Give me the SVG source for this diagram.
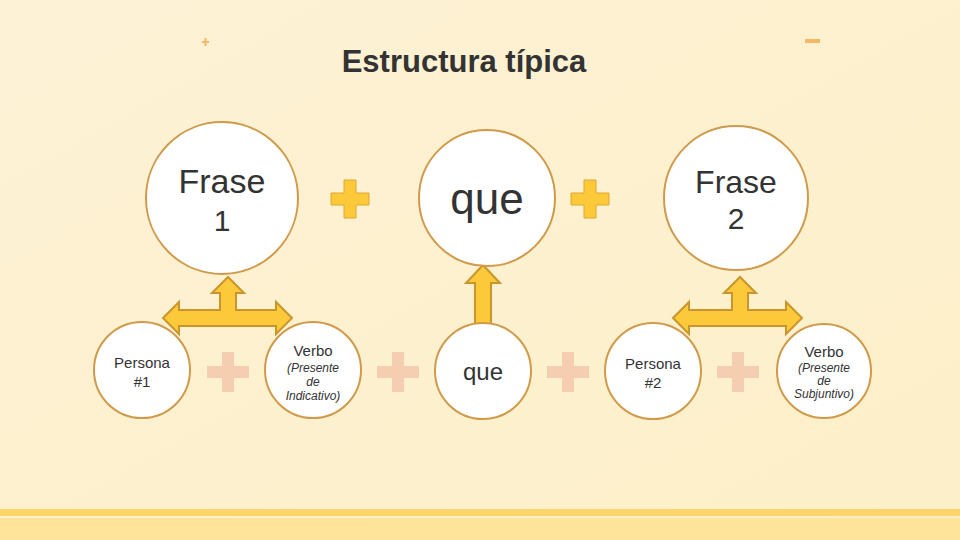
<svg xmlns="http://www.w3.org/2000/svg" width="960" height="540" viewBox="0 0 960 540">
<style>
.c{fill:#fff;stroke:#d19a4a;stroke-width:2}
.t{font-family:"Liberation Sans",Arial,sans-serif;fill:#333;text-anchor:middle}
.ar{fill:#fcc93a;stroke:#c9962d;stroke-width:2;stroke-linejoin:miter}
.pb{fill:#fcc93a;stroke:#e0a82b;stroke-width:1}
.ps{fill:#f5cdb0}
</style>
<defs>
<linearGradient id="bg" x1="0" y1="0" x2="1" y2="1"><stop offset="0" stop-color="#fdf2d6"/><stop offset="1" stop-color="#fdefc8"/></linearGradient>
</defs>
<rect width="960" height="540" fill="url(#bg)"/>
<rect y="509" width="960" height="7" fill="#fdd568"/>
<rect y="518" width="960" height="22" fill="#fee49a"/>
<rect x="202" y="41" width="7" height="2" fill="#f2b866"/><rect x="204.5" y="38" width="2" height="8" fill="#f2b866"/>
<rect x="805" y="39" width="15" height="4" fill="#f2b866"/>
<text class="t" x="464" y="72" font-size="31" font-weight="bold">Estructura típica</text>
<g id="conn">
<path class="ar" d="M163,318 L179,302 L179,310 L220,310 L220,293 L212,293 L228,277 L244,293 L236,293 L236,310 L276,310 L276,302 L292,318 L276,334 L276,326 L179,326 L179,334 Z"/>
<path class="ar" d="M673,318 L689,302 L689,310 L732,310 L732,293 L724,293 L740,277 L756,293 L748,293 L748,310 L786,310 L786,302 L802,318 L786,334 L786,326 L689,326 L689,334 Z"/>
<path class="ar" d="M475,325 L475,283 L466,283 L483,265 L500,283 L491,283 L491,325 Z"/>
</g>
<g id="plus-big1"><path class="pb" d="M344,180h12v13h13v12h-13v13h-12v-13h-13v-12h13z"/></g>
<g id="plus-big2"><path class="pb" d="M584,180h12v13h13v12h-13v13h-12v-13h-13v-12h13z"/></g>
<g id="plus-s1"><path class="ps" d="M222,352h12v14h15v12h-15v14h-12v-14h-15v-12h15z"/></g>
<g id="plus-s2"><path class="ps" d="M392,352h12v14h15v12h-15v14h-12v-14h-15v-12h15z"/></g>
<g id="plus-s3"><path class="ps" d="M562,352h12v14h15v12h-15v14h-12v-14h-15v-12h15z"/></g>
<g id="plus-s4"><path class="ps" d="M732,352h12v14h15v12h-15v14h-12v-14h-15v-12h15z"/></g>
<g id="frase1"><circle class="c" cx="222" cy="198" r="76"/><text class="t" x="222" y="193" font-size="34">Frase</text><text class="t" x="222" y="231" font-size="30">1</text></g>
<g id="que1"><circle class="c" cx="487" cy="198" r="68"/><text class="t" x="487" y="214" font-size="44">que</text></g>
<g id="frase2"><circle class="c" cx="736" cy="198" r="72"/><text class="t" x="736" y="193" font-size="32">Frase</text><text class="t" x="736" y="229" font-size="30">2</text></g>
<g id="persona1"><circle class="c" cx="142" cy="370" r="48"/><text class="t" x="142" y="368" font-size="15">Persona</text><text class="t" x="142" y="387" font-size="15">#1</text></g>
<g id="verbo1"><circle class="c" cx="313" cy="370" r="48"/><text class="t" x="313" y="356" font-size="15">Verbo</text><text class="t" x="313" y="372" font-size="12" font-style="italic">(Presente</text><text class="t" x="313" y="386" font-size="12" font-style="italic">de</text><text class="t" x="313" y="400" font-size="12" font-style="italic">Indicativo)</text></g>
<g id="que2"><circle class="c" cx="483" cy="371" r="48"/><text class="t" x="483" y="380" font-size="24">que</text></g>
<g id="persona2"><circle class="c" cx="653" cy="371" r="48"/><text class="t" x="653" y="369" font-size="15">Persona</text><text class="t" x="653" y="388" font-size="15">#2</text></g>
<g id="verbo2"><circle class="c" cx="824" cy="371" r="47"/><text class="t" x="824" y="357" font-size="15">Verbo</text><text class="t" x="824" y="372" font-size="12" font-style="italic">(Presente</text><text class="t" x="824" y="385" font-size="12" font-style="italic">de</text><text class="t" x="824" y="398" font-size="12" font-style="italic">Subjuntivo)</text></g>
</svg>
